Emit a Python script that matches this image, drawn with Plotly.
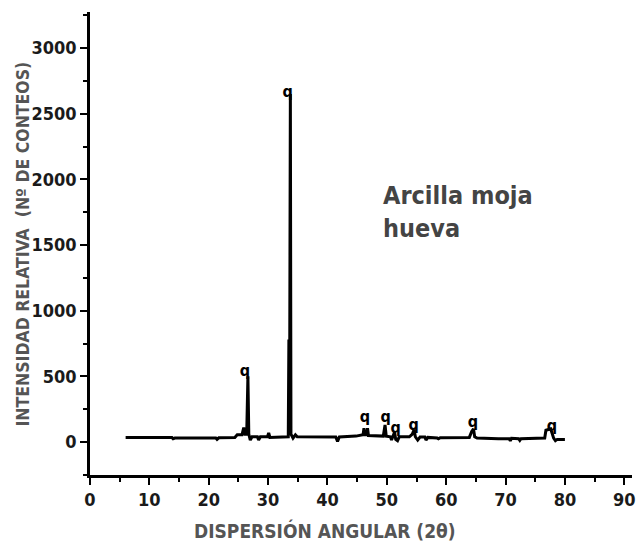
import plotly.graph_objects as go

# Diffraction profile (2θ, counts)
two_theta = [6.0, 13.8, 14.0, 14.3, 21.2, 21.4, 21.7, 24.4, 24.8, 25.6, 25.9, 26.1, 26.4,
             26.6, 26.75, 27.0, 27.3, 28.2, 28.4, 28.7, 29.9, 30.1, 30.3, 33.4, 33.5,
             33.65, 33.75, 33.85, 34.2, 34.6, 34.9, 41.4, 41.7, 42.0, 44.8, 45.5, 46.0,
             46.15, 46.3, 46.6, 46.75, 46.9, 49.4, 49.7, 49.9, 50.6, 50.8, 51.0, 51.3,
             51.5, 51.8, 52.1, 53.8, 54.3, 54.6, 54.8, 55.2, 55.6, 56.4, 56.6, 56.9,
             58.5, 58.7, 59.0, 63.2, 63.9, 64.3, 64.6, 64.8, 65.2, 68.8, 70.6, 70.8,
             71.0, 72.2, 72.4, 72.6, 76.3, 76.6, 76.8, 77.6, 78.1, 78.4, 78.7, 80.0]
counts = [35, 35, 25, 30, 30, 20, 32, 35, 55, 55, 110, 60, 60,
          500, 60, 15, 40, 40, 15, 40, 40, 70, 35, 40, 770,
          770, 2650, 60, 30, 55, 40, 38, 5, 38, 45, 50, 55,
          105, 55, 55, 105, 50, 45, 130, 45, 40, 15, 40, 75,
          20, 10, 40, 40, 60, 95, 40, 15, 38, 38, 15, 35,
          30, 25, 33, 30, 35, 80, 100, 40, 30, 25, 25, 10,
          28, 25, 12, 25, 25, 30, 90, 100, 30, 10, 20, 20]

# Peak markers ("q")
mark_x = [26.1, 33.3, 46.3, 49.8, 51.5, 54.5, 64.5, 77.8]
mark_y = [530, 2655, 180, 180, 96, 119, 142, 112]

x_ticks = [0, 10, 20, 30, 40, 50, 60, 70, 80, 90]
y_ticks = [0, 500, 1000, 1500, 2000, 2500, 3000]

FONT = "'DejaVu Sans Condensed', 'Liberation Sans Narrow', Roboto, sans-serif"

fig = go.Figure()
fig.add_trace(go.Scatter(x=two_theta, y=counts, mode="lines",
                         line=dict(color="black", width=3), showlegend=False))
fig.add_trace(go.Scatter(x=mark_x, y=mark_y, mode="text", text=["q"] * len(mark_x),
                         textposition="middle center",
                         textfont=dict(family=FONT, size=16, color="black", weight="bold"),
                         showlegend=False))

axis_common = dict(showline=True, linecolor="black", linewidth=2.5, ticks="outside",
                   ticklen=7, tickwidth=2, tickcolor="black", showgrid=False, zeroline=False,
                   ticklabeloverflow="allow",
                   tickfont=dict(family=FONT, size=18, color="#1a1a1a", weight="bold"))

fig.update_layout(
    width=639, height=545,
    margin=dict(l=90, r=3, t=12, b=70),
    paper_bgcolor="white", plot_bgcolor="white",
    xaxis=dict(range=[0, 91.3], tickvals=x_ticks,
               minor=dict(ticks="outside", dtick=5, tick0=0, ticklen=4, tickwidth=2, tickcolor="black"),
               **axis_common),
    yaxis=dict(range=[-251, 3274], tickvals=y_ticks,
               minor=dict(ticks="outside", dtick=250, tick0=0, ticklen=4, tickwidth=2, tickcolor="black"),
               **axis_common),
    annotations=[
        dict(text="INTENSIDAD RELATIVA  (Nº DE CONTEOS)", xref="paper", yref="paper",
             x=-0.1245, y=0.499, xanchor="center", yanchor="middle", textangle=-90, showarrow=False,
             font=dict(family=FONT, size=17.5, color="#555555", weight="bold")),
        dict(text="DISPERSIÓN ANGULAR (2θ)", xref="paper", yref="paper",
             x=0.434, y=-0.119, xanchor="center", yanchor="middle", showarrow=False,
             font=dict(family=FONT, size=19, color="#555555", weight="bold")),
        dict(text="Arcilla moja<br>hueva", xref="x", yref="y", x=49, y=2000,
             xanchor="left", yanchor="top", align="left", showarrow=False,
             font=dict(family=FONT, size=25, color="#444444", weight="bold")),
    ],
)

fig.write_html("out.html")
